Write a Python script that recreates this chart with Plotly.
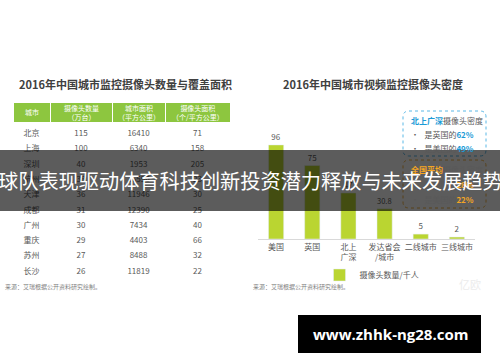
import plotly.graph_objects as go

W, H = 500, 362

# ---- data ----
table_title = "2016年中国城市监控摄像头数量与覆盖面积"
table_header = ["城市", "摄像头数量<br>（万台）", "城市面积<br>（平方公里）", "摄像头面积<br>（个/平方公里）"]
cities = ["北京", "上海", "深圳", "杭州", "天津", "成都", "广州", "重庆", "苏州", "长沙"]
cameras = [115, 100, 40, 38, 36, 31, 30, 29, 27, 26]
areas = [16410, 6340, 1953, 16596, 11946, 12390, 7434, 4403, 8488, 11819]
density = [71, 158, 205, 23, 30, 25, 40, 66, 32, 22]

bar_title = "2016年中国城市视频监控摄像头密度"
bar_cats = ["美国", "英国", "北上<br>广深", "发达省会<br>/城市", "二线城市", "三线城市"]
bar_vals = [96, 75, 47, 30.8, 5, 2]
bar_labels = ["96", "75", "47", "30.8", "5", "2"]
series_name = "摄像头数量/千人"
source = "来源：艾瑞根据公开资料研究绘制。"
banner = "球队表现驱动体育科技创新投资潜力释放与未来发展趋势"
site = "www.zhhk-ng28.com"

FONT = "Noto Sans CJK SC"
GRAY = "#595959"
GREEN_HDR = "#8dc63f"
BAR = "#bad531"


def px(x):
    return x / W


def py(y):
    return 1 - y / H


fig = go.Figure()

# ---- table ----
TX0, TX1 = 13, 230
TY0, HDR_H, ROW_H = 102, 20, 15.3
colw = [37, 62, 53, 65]
fig.add_trace(go.Table(
    domain=dict(x=[px(TX0), px(TX1)], y=[py(TY0 + HDR_H + ROW_H * len(cities) + 2), py(TY0)]),
    columnwidth=colw,
    header=dict(values=[""] * len(table_header), fill_color=GREEN_HDR,
                line=dict(color="white", width=1), height=HDR_H,
                font=dict(family=FONT, size=7, color="white")),
    cells=dict(values=[cities, cameras, areas, density], fill_color="white",
               line=dict(color="white", width=0), align="center",
               font=dict(family=FONT, size=8, color=GRAY), height=ROW_H),
))

# ---- bar chart ----
fig.add_trace(go.Bar(
    x=bar_cats, y=bar_vals, text=bar_labels, textposition="outside",
    textfont=dict(family=FONT, size=8, color=GRAY), cliponaxis=False,
    marker_color=BAR, name=series_name, showlegend=True,
))

fig.update_layout(
    width=W, height=H, margin=dict(l=0, r=0, t=0, b=0),
    paper_bgcolor="white", plot_bgcolor="white",
    font=dict(family=FONT, color=GRAY),
    bargap=0.58,
    xaxis=dict(domain=[px(258), px(475)], showline=True, linecolor="#d9d9d9",
               linewidth=1, ticks="", tickfont=dict(family=FONT, size=8, color=GRAY),
               showgrid=False, fixedrange=True),
    yaxis=dict(domain=[py(239), py(141)], range=[0, 100], visible=False,
               showgrid=False),
    legend=dict(orientation="h", x=px(372), y=py(275), xanchor="center",
                yanchor="middle", font=dict(family=FONT, size=8, color=GRAY),
                itemwidth=30, bgcolor="rgba(0,0,0,0)"),
)

ann = []
# table header labels, centred on each column
tot = sum(colw)
xc = TX0
for w, lab in zip(colw, table_header):
    wpx = w / tot * (TX1 - TX0)
    ann.append(dict(text=lab, x=px(xc + wpx / 2), y=py(TY0 + HDR_H / 2), xanchor="center",
                    yanchor="middle", font=dict(family=FONT, size=7, color="white")))
    xc += wpx

ann.append(dict(text="<b>" + table_title + "</b>", x=px(17), y=py(84), xanchor="left",
                yanchor="middle", font=dict(family=FONT, size=11, color="#404040")))
ann.append(dict(text="<b>" + bar_title + "</b>", x=px(281), y=py(84), xanchor="left",
                yanchor="middle", font=dict(family=FONT, size=11, color="#404040")))
for sx in (3, 251):
    ann.append(dict(text=source, x=px(sx), y=py(286), xanchor="left", yanchor="middle",
                    font=dict(family=FONT, size=6, color="#7f7f7f")))
ann.append(dict(text="亿欧", x=px(470), y=py(284), xanchor="center", yanchor="middle",
                font=dict(family=FONT, size=11, color="#ececec")))

BLUE = "#1a9ad6"
ORANGE = "#f5a623"
box_lines = [
    (120, "<b><span style='color:%s'>北上广深</span></b>摄像头密度" % BLUE),
    (134, "•   是英国的<b><span style='color:%s'>62%%</span></b>" % BLUE),
    (148, "•   是美国的<b><span style='color:%s'>49%%</span></b>" % BLUE),
    (169, "<b><span style='color:%s'>全国平均</span></b>摄像头密度" % ORANGE),
    (184, "•   是英国的<b><span style='color:%s'>28%%</span></b>" % ORANGE),
    (199, "•   是美国的<b><span style='color:%s'>22%%</span></b>" % ORANGE),
]
for yy, t in box_lines:
    ann.append(dict(text=t, x=px(409), y=py(yy), xanchor="left", yanchor="middle",
                    font=dict(family=FONT, size=8, color=GRAY)))

ann.append(dict(text=banner, x=0.5, y=py(180), xanchor="center", yanchor="middle",
                font=dict(family=FONT, size=20.2, color="white")))
ann.append(dict(text="<b>" + site + "</b>", x=px(390), y=py(334), xanchor="center",
                yanchor="middle", font=dict(family="Open Sans", size=15, color="white")))

for a in ann:
    a.update(xref="paper", yref="paper", showarrow=False)
fig.update_layout(annotations=ann)


def rounded(x0, y0, x1, y1, r):
    X0, X1 = px(x0), px(x1)
    Y0, Y1 = py(y0), py(y1)
    rx, ry = r / W, r / H
    return (f"M {X0+rx},{Y0} L {X1-rx},{Y0} Q {X1},{Y0} {X1},{Y0-ry} "
            f"L {X1},{Y1+ry} Q {X1},{Y1} {X1-rx},{Y1} L {X0+rx},{Y1} "
            f"Q {X0},{Y1} {X0},{Y1+ry} L {X0},{Y0-ry} Q {X0},{Y0} {X0+rx},{Y0} Z")


shapes = [
    dict(type="path", path=rounded(403, 111, 486, 156, 6), xref="paper", yref="paper",
         line=dict(color="#5ab8e6", width=1, dash="dot")),
    dict(type="path", path=rounded(403, 160, 486, 208, 6), xref="paper", yref="paper",
         line=dict(color="#f2b446", width=1, dash="dot")),
    dict(type="rect", x0=0, x1=1, y0=py(211), y1=py(150), xref="paper", yref="paper",
         fillcolor="rgba(0,0,0,0.64)", line=dict(width=0), layer="above"),
    dict(type="rect", x0=px(298), x1=px(481), y0=py(353), y1=py(315), xref="paper",
         yref="paper", fillcolor="black", line=dict(width=0), layer="above"),
]
fig.update_layout(shapes=shapes)

fig.write_html("out.html")
